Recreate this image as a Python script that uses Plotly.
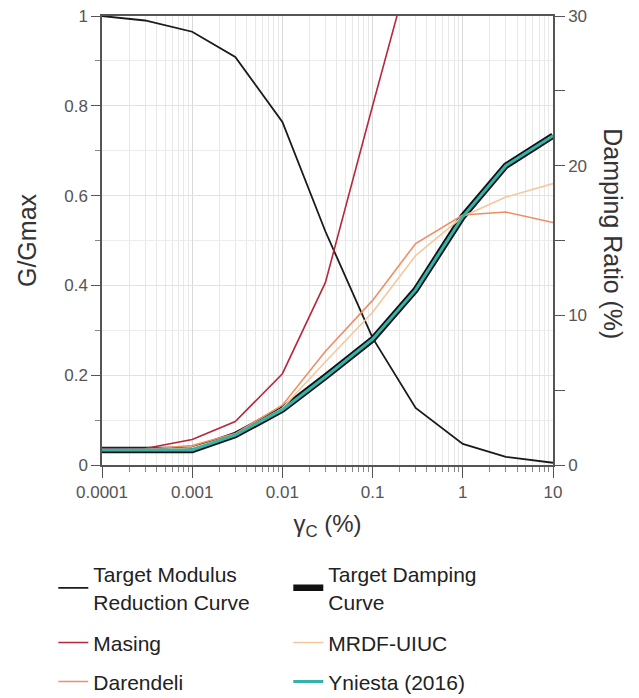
import plotly.graph_objects as go
import numpy as np

# ---- data ----
strain = [0.0001, 0.0003, 0.001, 0.003, 0.01, 0.03, 0.1, 0.3, 1, 3, 10]
target_modulus = [1.0, 0.99, 0.965, 0.909, 0.764, 0.52, 0.283, 0.127, 0.047, 0.018, 0.005]
target_damping = [1.0, 1.0, 1.0, 2.0, 3.7, 5.9, 8.4, 11.7, 16.6, 20.0, 22.0]
masing_strain = [0.0001, 0.0003, 0.001, 0.003, 0.01, 0.03, 0.1, 0.3]
masing = [1.1, 1.1, 1.7, 2.9, 6.1, 12.2, 24.0, 34.6]
mrdf_uiuc = [1.0, 1.0, 1.15, 2.0, 3.8, 6.9, 10.2, 14.0, 16.6, 17.9, 18.8]
darendeli = [1.0, 1.05, 1.3, 2.1, 4.0, 7.6, 11.0, 14.8, 16.7, 16.9, 16.2]
yniesta = [1.0, 1.0, 1.0, 2.0, 3.7, 5.9, 8.4, 11.7, 16.6, 20.0, 22.0]

x_tickvals = [0.0001, 0.001, 0.01, 0.1, 1, 10]
x_ticktext = ["0.0001", "0.001", "0.01", "0.1", "1", "10"]

FONT = "Liberation Sans, Arial, sans-serif"
minor_x = [m * d for d in x_tickvals[:-1] for m in range(2, 10)]

fig = go.Figure()
fig.add_trace(go.Scatter(x=strain, y=target_modulus, mode="lines", yaxis="y",
                         name="Target Modulus<br>Reduction Curve",
                         line=dict(color="#1a1a1a", width=1.8), legend="legend"))
fig.add_trace(go.Scatter(x=strain, y=target_damping, mode="lines", yaxis="y2",
                         name="Target Damping<br>Curve",
                         line=dict(color="#111111", width=6.5), legend="legend"))
fig.add_trace(go.Scatter(x=masing_strain, y=masing, mode="lines", yaxis="y2",
                         name="Masing", line=dict(color="#b8283c", width=1.6),
                         legend="legend2"))
fig.add_trace(go.Scatter(x=strain, y=mrdf_uiuc, mode="lines", yaxis="y2",
                         name="MRDF-UIUC", line=dict(color="#f6c79a", width=1.6),
                         legend="legend2"))
fig.add_trace(go.Scatter(x=strain, y=darendeli, mode="lines", yaxis="y2",
                         name="Darendeli", line=dict(color="#ee8f62", width=1.6),
                         legend="legend3"))
fig.add_trace(go.Scatter(x=strain, y=yniesta, mode="lines", yaxis="y2",
                         name="Yniesta (2016)", line=dict(color="#34b2ac", width=3),
                         legend="legend3"))

legend_common = dict(orientation="h", x=-0.108, xanchor="left", yanchor="middle",
                     entrywidth=190, entrywidthmode="pixels",
                     font=dict(family=FONT, size=21, color="#222222"),
                     bgcolor="rgba(0,0,0,0)")

fig.update_layout(
    width=639, height=698,
    margin=dict(l=102, r=86, t=16, b=233, autoexpand=False),
    paper_bgcolor="white", plot_bgcolor="white",
    font=dict(family=FONT, color="#444444"),
    showlegend=True,
    legend=dict(**legend_common, y=-0.274),
    legend2=dict(**legend_common, y=-0.396),
    legend3=dict(**legend_common, y=-0.483),
    xaxis=dict(
        type="log", range=[-4, 1],
        tickvals=x_tickvals, ticktext=x_ticktext,
        ticks="outside", ticklen=11, tickcolor="#555555", tickwidth=1,
        tickfont=dict(size=17, color="#555555"),
        showgrid=True, gridcolor="#d9d9d9", gridwidth=1,
        showline=True, linecolor="#555555", linewidth=1.5, mirror=True,
        zeroline=False,
        minor=dict(tickvals=minor_x, ticks="outside", ticklen=5, tickcolor="#888888",
                   showgrid=True, gridcolor="#e8e8e8", gridwidth=1),
        title=dict(text="γ<sub>C</sub> (%)", font=dict(size=24, color="#333333"),
                   standoff=14),
    ),
    yaxis=dict(
        range=[0, 1], dtick=0.2, tick0=0,
        ticks="outside", ticklen=9, tickcolor="#555555",
        tickfont=dict(size=17, color="#555555"),
        showgrid=True, gridcolor="#e2e2e2",
        showline=True, linecolor="#555555", linewidth=1.5,
        zeroline=False,
        minor=dict(dtick=0.1, tick0=0, ticks="outside", ticklen=5, tickcolor="#888888",
                   showgrid=True, gridcolor="#ececec"),
        title=dict(text="G/Gmax", font=dict(size=25, color="#333333"), standoff=20),
    ),
    yaxis2=dict(
        overlaying="y", side="right", range=[0, 30], dtick=10, tick0=0,
        ticks="outside", ticklen=10, tickcolor="#555555",
        tickfont=dict(size=17, color="#555555"),
        showgrid=False, zeroline=False,
        showline=True, linecolor="#555555", linewidth=1.5,
        minor=dict(dtick=5, tick0=0, ticks="outside", ticklen=10, tickcolor="#555555",
                   showgrid=False),
    ),
    annotations=[dict(text="Damping Ratio (%)", textangle=90, xref="paper", yref="paper",
                      x=1.133, y=0.514, xanchor="center", yanchor="middle",
                      showarrow=False, font=dict(size=25, color="#333333"))],
)

fig.write_html("out.html")
